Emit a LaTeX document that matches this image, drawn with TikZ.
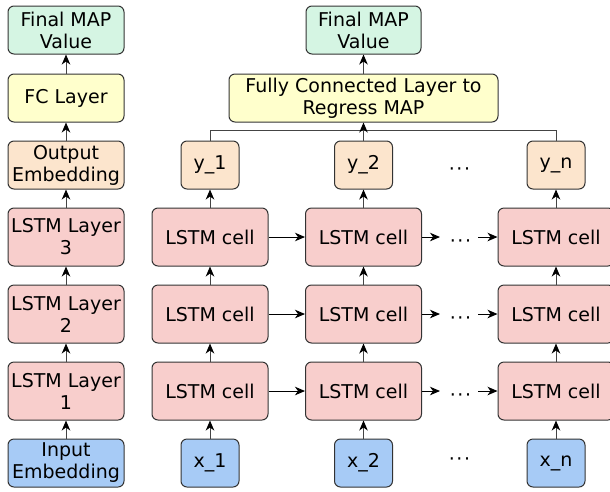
\documentclass[tikz,border=0pt]{standalone}
\usepackage{fontspec}
\setmainfont{DejaVu Sans}
\usetikzlibrary{arrows.meta}

\definecolor{mintfill}{HTML}{D5F5E3}
\definecolor{yellowfill}{HTML}{FFFFCC}
\definecolor{peachfill}{HTML}{FCE5CD}
\definecolor{pinkfill}{HTML}{F8CECC}
\definecolor{bluefill}{HTML}{A7CBF6}
\definecolor{edgegray}{HTML}{333333}
\definecolor{linegray}{HTML}{444444}

\tikzset{
  box/.style={draw=edgegray, line width=1pt, rounded corners=6pt, inner sep=0pt,
    align=center, font=\fontsize{19}{22}\selectfont, text=black},
  wide/.style={box, minimum width=116pt},
  small/.style={box, minimum width=58pt, minimum height=48pt},
  short/.style={minimum height=48pt},
  tall/.style={minimum height=58pt},
  outbox/.style={fill=mintfill},
  fcbox/.style={fill=yellowfill},
  embbox/.style={fill=peachfill},
  lstmbox/.style={fill=pinkfill},
  inbox/.style={fill=bluefill},
  conn/.style={draw=linegray, line width=1pt,
    -{Stealth[length=10pt,width=8.5pt,inset=3pt,color=black]}},
  busline/.style={draw=black, line width=1pt},
  ellip/.style={inner sep=0pt, font=\fontsize{19}{22}\selectfont},
}

\newcommand{\ellipsisdots}{\textperiodcentered\kern1.6pt\textperiodcentered\kern1.6pt\textperiodcentered}

\begin{document}
\begin{tikzpicture}[x=1pt, y=-1pt]
  \useasboundingbox (0,0) rectangle (610,491);

  % ---- left column: layer stack ----
  \node[wide, short, outbox]  (lfm) at (66,30)    {Final MAP\\Value};
  \node[wide, short, fcbox]   (lfc) at (66,98)    {FC Layer};
  \node[wide, short, embbox]  (loe) at (66,165)   {Output\\Embedding};
  \node[wide, tall, lstmbox]  (l3)  at (66,237)   {LSTM Layer\\3};
  \node[wide, tall, lstmbox]  (l2)  at (66,314)   {LSTM Layer\\2};
  \node[wide, tall, lstmbox]  (l1)  at (66,391)   {LSTM Layer\\1};
  \node[wide, short, inbox]   (lie) at (66,463)   {Input\\Embedding};

  \draw[conn] (lie) -- (l1);
  \draw[conn] (l1) -- (l2);
  \draw[conn] (l2) -- (l3);
  \draw[conn] (l3) -- (loe);
  \draw[conn] (loe) -- (lfc);
  \draw[conn] (lfc) -- (lfm);

  % ---- right: unrolled network ----
  \node[box, minimum width=115pt, short, outbox] (rfm) at (363.5,30) {Final MAP\\Value};
  \node[box, minimum width=269pt, short, fcbox]  (rfc) at (363.5,98) {Fully Connected Layer to\\Regress MAP};

  \foreach \c/\x/\lab in {1/210/1, 2/363.5/2, 3/556/n} {
    \node[small, embbox] (y\c) at (\x,165) {y\_\lab};
    \node[wide, tall, lstmbox] (a\c) at (\x,237) {LSTM cell};
    \node[wide, tall, lstmbox] (b\c) at (\x,314) {LSTM cell};
    \node[wide, tall, lstmbox] (c\c) at (\x,391) {LSTM cell};
    \node[small, inbox] (x\c) at (\x,463) {x\_\lab};
    \draw[conn] (x\c) -- (c\c);
    \draw[conn] (c\c) -- (b\c);
    \draw[conn] (b\c) -- (a\c);
    \draw[conn] (a\c) -- (y\c);
  }

  % gaps between the second and the last time step
  \node[ellip] (ydots) at (459.5,172) {\ellipsisdots};
  \node[ellip] (xdots) at (459.5,461.5) {\ellipsisdots};

  \foreach \r/\y in {a/237, b/314, c/391} {
    \node[ellip] (\r dots) at (460.5,\y+6.5) {\ellipsisdots};
    \coordinate (\r in) at (440,\y);
    \coordinate (\r out) at (478,\y);
    \draw[conn, draw=black] (\r1) -- (\r2);
    \draw[conn, draw=black] (\r2) -- (\r in);
    \draw[conn, draw=black] (\r out) -- (\r3);
  }

  % outputs gathered into the regression layer
  \draw[busline, draw=linegray] (y1.north) -- ++(0,-10) -| (y3.north);
  \draw[conn] (y2) -- (rfc);
  \draw[conn] (rfc) -- (rfm);
\end{tikzpicture}
\end{document}
